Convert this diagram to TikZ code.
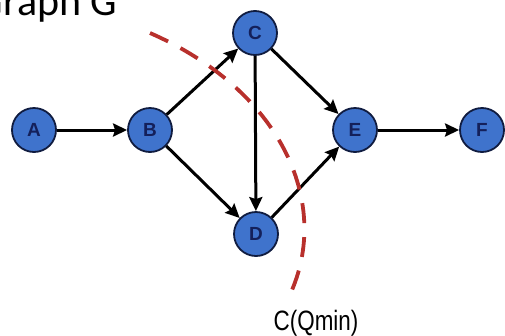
\documentclass[tikz,border=0pt]{standalone}
\usepackage{fontspec}
\setmainfont{Liberation Sans}
\newfontfamily\titlefont{Carlito}
\usepackage{tikz}
\usetikzlibrary{arrows.meta}
\definecolor{nodeblue}{HTML}{3F73CC}
\definecolor{nodeborder}{HTML}{101C40}
\definecolor{labelnavy}{HTML}{14205A}
\definecolor{cutred}{HTML}{B8302C}

\begin{document}
\begin{tikzpicture}[
        x=1pt, y=-1pt,
        vertex/.style = {draw=nodeborder, fill=nodeblue, circle, minimum size=44pt, inner sep=0pt, line width=1.8pt, text=labelnavy, font=\fontsize{19}{19}\selectfont\bfseries},
        arrow/.style = {draw=black, -{Stealth[length=14pt, width=13pt, inset=2pt]}, line width=3pt},
        cut/.style = {draw=cutred, line width=3.8pt, dash pattern=on 20pt off 14pt}
    ]
        \clip (0,0) rectangle (505,335);
        \useasboundingbox (0,0) rectangle (505,335);

        \node (title) [anchor=base east, font=\titlefont\fontsize{42}{42}\selectfont] at (121,15) {Graph G};

        \node (A) [vertex] at (34,130) {A};
        \node (B) [vertex] at (150,130) {B};
        \node (C) [vertex] at (255,33) {C};
        \node (D) [vertex] at (256,234) {D};
        \node (E) [vertex] at (355,130) {E};
        \node (F) [vertex] at (482,130) {F};

        \draw [arrow] (A) -- (B);
        \draw [arrow] (B) -- (C);
        \draw [arrow] (B) -- (D);
        \draw [arrow] (C) -- (D);
        \draw [arrow] (C) -- (E);
        \draw [arrow] (D) -- (E);
        \draw [arrow] (E) -- (F);

        % minimaler Schnitt
        \coordinate (cutstart) at (150,33);
        \coordinate (cutend) at (292,290);
        \draw [cut] (cutstart) .. controls (280,90) and (330,200) .. (cutend);

        \node (cutlabel) [anchor=base, font=\fontsize{28}{28}\selectfont] at (316,330) {\scalebox{0.8}[1]{C(Qmin)}};

    \end{tikzpicture}
\end{document}
